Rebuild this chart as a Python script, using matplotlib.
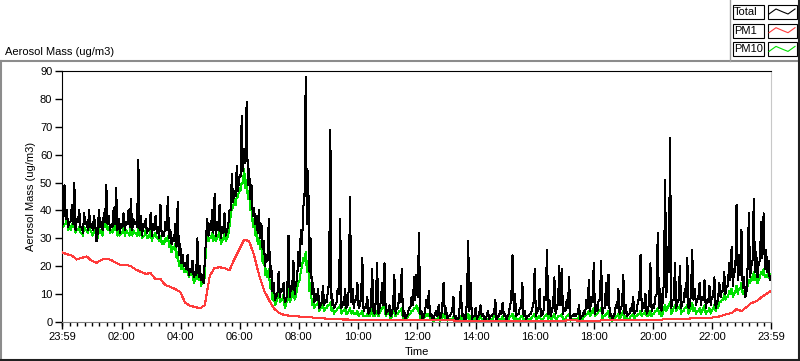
#Import Packages
import numpy as np
import matplotlib
matplotlib.use('Agg')
import matplotlib.pyplot as plt
from matplotlib.lines import Line2D

plt.rcParams['font.family'] = ['Liberation Sans', 'DejaVu Sans']
plt.rcParams['font.size'] = 8

#Data (minutes after 23:59)
#readings on the 5 min marks
minutes = np.arange(0, 1441, 5)
#readings between the marks (2.5 min later)
minutes_half = np.arange(2.5, 1440, 5)

total = [
    38, 49, 40, 36, 42, 50, 37, 40, 34, 39, 36, 40, 35, 38, 29, 40, 36, 39, 49, 38, 35,
    41, 48, 37, 35, 39, 36, 40, 44, 37, 36, 58, 38, 35, 37, 33, 39, 35, 38, 34, 42, 31,
    36, 45, 33, 30, 35, 43, 28, 24, 21, 24, 19, 22, 18, 30, 20, 17, 22, 37, 35, 40, 46,
    36, 42, 34, 39, 33, 40, 53, 47, 56, 52, 74, 62, 79, 55, 49, 41, 38, 40, 35, 29, 24,
    37, 20, 14, 9, 18, 12, 14, 8, 31, 12, 22, 14, 25, 33, 41, 88, 54, 30, 14, 10, 12,
    6, 13, 8, 11, 69, 8, 6, 12, 37, 7, 12, 6, 45, 12, 8, 14, 6, 23, 5, 9, 4,
    19, 3, 21, 5, 14, 21, 4, 6, 3, 17, 5, 10, 19, 4, 2, 5, 9, 16, 17, 32, 4,
    2, 8, 11, 3, 1, 4, 6, 2, 14, 5, 2, 3, 9, 2, 1, 13, 3, 1, 29, 14, 2,
    5, 2, 6, 3, 1, 4, 2, 3, 8, 2, 4, 7, 3, 2, 6, 24, 10, 3, 5, 14, 4,
    2, 3, 5, 19, 4, 12, 3, 9, 26, 8, 4, 16, 5, 20, 19, 5, 8, 16, 2, 3,
    3, 6, 2, 4, 8, 15, 9, 21, 6, 8, 22, 5, 14, 17, 3, 2, 6, 12, 5, 17, 6,
    3, 5, 9, 4, 8, 24, 7, 10, 4, 21, 6, 9, 32, 12, 7, 51, 27, 66, 8, 21, 7,
    20, 7, 12, 23, 6, 26, 12, 8, 14, 9, 15, 8, 13, 9, 16, 7, 14, 11, 18, 13,
    21, 27, 19, 42, 24, 33, 16, 10, 39, 20, 44, 25, 21, 36, 39, 26, 22, 16,
]

total_half = [
    35, 37, 34, 36, 35, 33, 36, 34, 32, 35, 33, 34, 33, 35, 32, 34, 33, 36, 35, 33, 34,
    35, 33, 32, 34, 33, 35, 34, 33, 35, 34, 33, 31, 34, 32, 33, 31, 33, 32, 30, 31,
    31, 33, 30, 28, 29, 27, 24, 21, 20, 19, 17, 18, 16, 17, 16, 15, 14, 30, 31, 33, 32,
    31, 33, 30, 32, 31, 34, 40, 43, 45, 47, 52, 54, 57, 49, 44, 38, 35, 32, 30, 26, 20,
    22, 16, 11, 8, 10, 9, 11, 7, 10, 9, 12, 10, 15, 20, 28, 45, 35, 18, 10, 7, 8,
    5, 7, 6, 7, 14, 6, 5, 7, 10, 5, 6, 5, 12, 7, 5, 8, 5, 9, 4, 5, 3,
    6, 4, 8, 3, 7, 6, 3, 4, 2, 6, 3, 5, 7, 2, 1, 3, 5, 6, 8, 9, 3,
    1, 4, 5, 2, 1, 3, 2, 1, 6, 3, 1, 2, 4, 1, 1, 5, 2, 1, 8, 4, 1,
    2, 1, 3, 2, 1, 2, 1, 2, 3, 1, 2, 3, 2, 1, 3, 8, 4, 2, 3, 5, 2,
    1, 2, 3, 6, 2, 4, 2, 3, 8, 3, 2, 6, 3, 7, 6, 3, 4, 5, 1, 2,
    2, 3, 1, 2, 3, 5, 4, 7, 3, 4, 8, 3, 5, 6, 2, 1, 3, 5, 3, 6, 3,
    2, 3, 4, 3, 4, 8, 4, 5, 3, 7, 4, 5, 10, 5, 4, 15, 9, 18, 5, 8, 5,
    8, 5, 7, 9, 5, 10, 8, 6, 9, 6, 8, 5, 7, 6, 9, 5, 8, 9, 11, 10,
    13, 15, 13, 18, 15, 17, 12, 9, 20, 16, 22, 18, 16, 22, 23, 19, 18, 15,
]

pm10 = [
    36, 35, 37, 34, 35, 36, 33, 34, 32, 34, 33, 35, 32, 33, 31, 34, 33, 35, 37, 34, 33,
    35, 36, 33, 32, 34, 33, 32, 35, 33, 32, 34, 33, 31, 33, 30, 33, 31, 32, 30, 31, 29,
    30, 31, 29, 27, 28, 25, 22, 21, 19, 20, 17, 19, 15, 18, 17, 14, 16, 32, 30, 32, 31,
    30, 33, 29, 32, 30, 34, 41, 44, 45, 48, 50, 55, 51, 47, 43, 37, 33, 30, 29, 24, 19,
    19, 14, 10, 7, 12, 8, 10, 6, 12, 8, 13, 9, 14, 18, 23, 25, 22, 14, 8, 6, 7,
    5, 6, 5, 6, 7, 5, 4, 5, 6, 4, 5, 3, 5, 4, 3, 4, 3, 4, 2, 3, 2,
    5, 2, 4, 3, 5, 7, 3, 4, 2, 5, 3, 4, 5, 2, 1, 3, 4, 5, 6, 5, 2,
    1, 3, 3, 1, 0.5, 1, 2, 1, 3, 2, 1, 1, 2, 1, 0.5, 2, 1, 0.5, 3, 2, 1,
    2, 1, 2, 1, 0.5, 1, 1, 1, 3, 1, 1, 2, 1, 0.5, 2, 3, 2, 1, 1, 2, 1,
    0.5, 1, 2, 3, 1, 2, 1, 2, 3, 2, 1, 3, 1, 2, 3, 1, 2, 3, 1, 1,
    1, 2, 1, 2, 3, 4, 3, 5, 3, 4, 5, 2, 3, 4, 1, 1, 2, 3, 2, 4, 2,
    1, 2, 3, 2, 3, 4, 3, 4, 2, 4, 3, 4, 5, 4, 3, 6, 5, 7, 4, 6, 5,
    6, 4, 5, 6, 4, 7, 5, 4, 5, 4, 6, 4, 5, 4, 6, 5, 7, 8, 10, 9,
    11, 12, 10, 13, 12, 14, 11, 12, 15, 16, 18, 17, 15, 18, 19, 17, 18, 17,
]

pm10_half = [
    34, 35, 33, 33, 34, 32, 33, 32, 31, 33, 32, 33, 31, 32, 30, 32, 31, 34, 33, 32, 32,
    33, 31, 31, 32, 31, 32, 31, 31, 32, 31, 31, 30, 31, 30, 31, 29, 31, 30, 29, 28,
    28, 29, 27, 25, 26, 23, 20, 19, 18, 18, 16, 17, 14, 16, 15, 13, 14, 28, 29, 30, 29,
    29, 31, 28, 30, 29, 31, 38, 41, 42, 45, 47, 50, 48, 44, 40, 34, 31, 28, 26, 21, 17,
    16, 12, 8, 6, 9, 7, 8, 5, 9, 7, 10, 8, 12, 15, 20, 22, 18, 11, 6, 5, 6,
    4, 5, 4, 5, 6, 4, 3, 4, 5, 3, 4, 3, 4, 3, 3, 3, 2, 3, 2, 2, 2,
    3, 2, 3, 2, 4, 5, 2, 3, 1, 4, 2, 3, 4, 1, 1, 2, 3, 4, 5, 4, 1,
    1, 2, 2, 1, 0.5, 1, 1, 0.5, 2, 1, 0.5, 1, 1, 0.5, 0.5, 1, 1, 0.5, 2, 1, 0.5,
    1, 0.5, 1, 1, 0.5, 1, 0.5, 1, 2, 0.5, 1, 1, 1, 0.5, 1, 2, 1, 1, 1, 2, 1,
    0.5, 1, 1, 2, 1, 2, 1, 1, 2, 1, 1, 2, 1, 2, 2, 1, 1, 2, 0.5, 1,
    1, 1, 0.5, 1, 2, 3, 2, 4, 2, 3, 4, 1, 2, 3, 1, 0.5, 1, 2, 1, 3, 1,
    1, 1, 2, 1, 2, 3, 2, 3, 2, 3, 2, 3, 4, 3, 2, 5, 4, 6, 3, 5, 4,
    5, 3, 4, 5, 3, 5, 4, 3, 4, 3, 5, 3, 4, 3, 5, 4, 5, 7, 8, 8,
    9, 10, 9, 11, 10, 12, 10, 10, 13, 14, 15, 15, 14, 16, 17, 16, 16, 15,
]

#PM1 is smooth, 10 min steps
minutes_pm1 = np.arange(0, 1441, 10)
pm1 = [
    25.0, 24.3, 23.8, 22.4, 23.0, 23.5, 22.0, 21.2, 22.3, 22.7, 22.2, 21.2, 20.3, 20.6, 20.0,
    18.8, 18.0, 17.3, 17.5, 15.3, 15.4, 13.2, 12.6, 11.8, 10.8, 7.0, 5.8, 5.4, 4.9, 6.0,
    16.5, 19.4, 19.6, 19.4, 18.5, 22.5, 26.0, 29.5, 29.0, 24.0, 17.0, 11.5, 8.0, 5.0, 3.3,
    2.6, 2.3, 2.1, 2.0, 1.8, 1.7, 1.6, 1.5, 1.3, 1.2, 1.1, 1.0, 0.9, 0.9, 0.8,
    0.8, 0.8, 0.8, 0.7, 0.7, 0.7, 0.7, 0.7, 0.7, 0.6, 0.6, 0.6, 0.6, 0.6, 0.6,
    0.6, 0.6, 0.6, 0.6, 0.6, 0.5, 0.5, 0.5, 0.5, 0.5, 0.5, 0.5, 0.5, 0.5, 0.5,
    0.5, 0.5, 0.5, 0.5, 0.5, 0.5, 0.5, 0.5, 0.5, 0.5, 0.5, 0.5, 0.5, 0.6, 0.6,
    0.5, 0.5, 0.5, 0.5, 0.5, 0.6, 0.6, 0.6, 0.6, 0.6, 0.6, 0.6, 0.6, 0.7, 0.7,
    0.8, 0.8, 0.9, 1.0, 1.0, 1.1, 1.2, 1.2, 1.3, 1.3, 1.4, 1.5, 1.6, 1.8, 2.2,
    2.8, 3.2, 4.6, 3.9, 5.3, 6.8, 7.4, 8.8, 10.0, 11.2,
]

tick_pos = [0, 121, 241, 361, 481, 601, 721, 841, 961, 1081, 1201, 1321, 1440]
tick_lab = ['23:59', '02:00', '04:00', '06:00', '08:00', '10:00', '12:00',
            '14:00', '16:00', '18:00', '20:00', '22:00', '23:59']

#Merge the two reading sets in time order
t_all = np.concatenate([minutes, minutes_half])
order = np.argsort(t_all)
t_all = t_all[order]
total_all = np.concatenate([total, total_half])[order]
pm10_all = np.concatenate([pm10, pm10_half])[order]

#Plot
fig = plt.figure(figsize=(8, 3.61), dpi=100)
ax = fig.add_axes([62 / 800, 1 - 322 / 361, 709 / 800, 251 / 361])

ax.plot(t_all, pm10_all, color='#00e000', lw=0.75, antialiased=False, zorder=2)
ax.plot(t_all, total_all, color='black', lw=0.75, antialiased=False, zorder=3)
ax.plot(minutes_pm1, pm1, color='#ff3b3b', lw=0.75, antialiased=False, zorder=4)

ax.set_xlim(0, 1440)
ax.set_ylim(0, 90)
ax.set_yticks(range(0, 91, 10))
ax.set_xticks(tick_pos)
ax.set_xticklabels(tick_lab)
ax.set_xticks(np.arange(1, 1440, 15), minor=True)
ax.tick_params(axis='both', direction='out', length=5, width=1, color='black', pad=2)
ax.tick_params(axis='x', which='minor', length=3, width=1)
ax.set_xlabel('Time', labelpad=4)
ax.set_ylabel('Aerosol Mass (ug/m3)', labelpad=3)

ax.spines['left'].set_color('black')
ax.spines['top'].set_color('black')
ax.spines['right'].set_color('#c8c8c8')
ax.spines['bottom'].set_color('#808080')

#Outer frame
fig.add_artist(Line2D([0.5 / 800, 798 / 800], [1 - 61 / 361, 1 - 61 / 361], color='#8c8c8c', lw=1.5))
fig.add_artist(Line2D([0.5 / 800, 0.5 / 800], [1 - 61 / 361, 1 - 360 / 361], color='#8c8c8c', lw=1.5))
fig.add_artist(Line2D([0, 799 / 800], [1 - 360 / 361, 1 - 360 / 361], color='#202020', lw=1.5))
fig.add_artist(Line2D([798.5 / 800, 798.5 / 800], [1, 1 - 360 / 361], color='#202020', lw=1.5))
fig.add_artist(Line2D([729.5 / 800, 729.5 / 800], [1, 1 - 61 / 361], color='#a0a0a0', lw=1.0))

fig.text(5 / 800, 1 - 52 / 361, 'Aerosol Mass (ug/m3)', va='center', ha='left')

#Legend
names = ['Total', 'PM1', 'PM10']
colors = ['black', '#ff3b3b', '#00e000']
for i, (name, col) in enumerate(zip(names, colors)):
    ytop = 5 + 18.7 * i
    yc = 1 - (ytop + 7) / 361
    fig.add_artist(plt.Rectangle((732.5 / 800, 1 - (ytop + 14) / 361), 31 / 800, 14 / 361,
                                 fill=False, ec='black', lw=0.8))
    fig.text(734 / 800, yc, name, va='center', ha='left', fontsize=8)
    fig.add_artist(plt.Rectangle((767.5 / 800, 1 - (ytop + 14) / 361), 29 / 800, 14 / 361,
                                 fill=False, ec='black', lw=0.8))
    lx = np.array([769, 776, 783, 788, 795]) / 800
    ly = yc + np.array([-2, 3, 0, -2, 3]) / 361
    fig.add_artist(Line2D(lx, ly, color=col, lw=0.8))

plt.savefig('out.png', dpi=100)
